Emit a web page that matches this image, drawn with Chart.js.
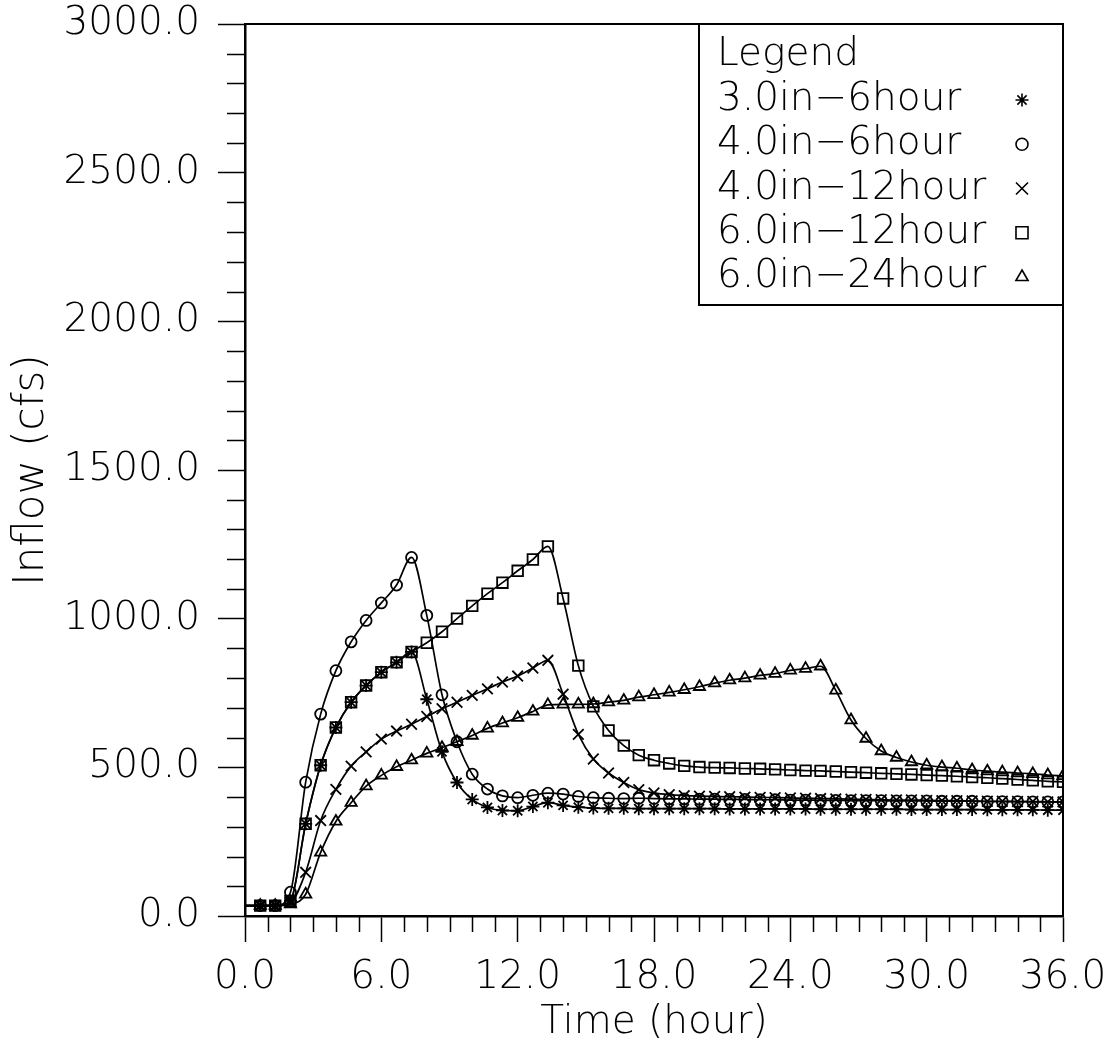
<!DOCTYPE html>
<html>
<head>
<meta charset="utf-8">
<title>Inflow hydrographs</title>
<script src="https://cdn.jsdelivr.net/npm/chart.js@4/dist/chart.umd.min.js"></script>
<style>
  html, body { margin: 0; padding: 0; background: #fff; }
</style>
</head>
<body>
<canvas id="inflowChart" width="1116" height="1046"></canvas>
<script>
// Time axis: one value every 40 minutes (hours)
const timeHours = [
  0, 0.67, 1.33, 2, 2.67, 3.33, 4, 4.67, 5.33, 6,
  6.67, 7.33, 8, 8.67, 9.33, 10, 10.67, 11.33, 12, 12.67,
  13.33, 14, 14.67, 15.33, 16, 16.67, 17.33, 18, 18.67, 19.33,
  20, 20.67, 21.33, 22, 22.67, 23.33, 24, 24.67, 25.33, 26,
  26.67, 27.33, 28, 28.67, 29.33, 30, 30.67, 31.33, 32, 32.67,
  33.33, 34, 34.67, 35.33, 36
];

const seriesNames = ['3.0in\u22126hour', '4.0in\u22126hour', '4.0in\u221212hour', '6.0in\u221212hour', '6.0in\u221224hour'];

// Inflow (cfs)
const inflow3in6hr = [
  35, 35, 35, 51, 310, 507, 634, 719, 775, 820,
  853, 888, 729, 552, 449, 392, 365, 355, 354, 368,
  381, 372, 366, 363, 362, 362, 361, 361, 361, 361,
  361, 361, 360, 360, 360, 360, 360, 360, 359, 359,
  359, 359, 359, 359, 358, 358, 358, 358, 358, 357,
  357, 357, 357, 356, 356
];
const inflow4in6hr = [
  35, 35, 35, 80, 450, 679, 825, 922, 994, 1053,
  1113, 1206, 1011, 744, 586, 477, 427, 404, 398, 406,
  413, 410, 402, 398, 396, 395, 396, 395, 394, 394,
  393, 393, 392, 392, 391, 391, 390, 390, 389, 389,
  388, 388, 388, 387, 387, 387, 386, 386, 386, 385,
  385, 385, 384, 384, 384
];
const inflow4in12hr = [
  35, 35, 35, 45, 147, 321, 426, 504, 552, 595,
  622, 645, 671, 697, 719, 742, 764, 787, 807, 834,
  860, 746, 611, 528, 481, 449, 425, 414, 408, 405,
  403, 402, 401, 400, 399, 398, 397, 396, 395, 394,
  393, 392, 391, 390, 390, 389, 388, 388, 387, 386,
  386, 385, 385, 384, 384
];
const inflow6in12hr = [
  35, 35, 35, 51, 310, 507, 634, 719, 775, 820,
  853, 888, 919, 956, 1000, 1043, 1084, 1121, 1161, 1199,
  1243, 1068, 842, 705, 624, 573, 541, 524, 513, 505,
  501, 499, 498, 496, 495, 493, 491, 489, 488, 486,
  484, 482, 480, 478, 476, 474, 472, 470, 467, 465,
  462, 459, 456, 453, 451
];
const inflow6in24hr = [
  35, 35, 35, 40, 73, 214, 318, 381, 437, 473,
  502, 524, 547, 566, 586, 607, 631, 649, 667, 688,
  710, 712, 712, 713, 719, 725, 736, 744, 752, 761,
  771, 783, 793, 800, 809, 815, 826, 832, 840, 759,
  659, 597, 555, 533, 518, 507, 501, 497, 491, 487,
  484, 481, 478, 474, 471
];

const xTickValues = [0, 6, 12, 18, 24, 30, 36];
const yTickValues = [0, 500, 1000, 1500, 2000, 2500, 3000];
const xMinorStep = 1;
const yMinorStep = 100;

const FONT = "'DejaVu Sans', 'Liberation Sans', sans-serif";
Chart.defaults.font.family = FONT;
Chart.defaults.color = '#000';

const allSeries = [inflow3in6hr, inflow4in6hr, inflow4in12hr, inflow6in12hr, inflow6in24hr];
const markerStyles = [
  { pointStyle: 'star', radius: 6.5, legendRadius: 6.5 },
  { pointStyle: 'circle', radius: 5.5, legendRadius: 6 },
  { pointStyle: 'crossRot', radius: 7.5, legendRadius: 8.5 },
  { pointStyle: 'rect', radius: 7.5, legendRadius: 8.5 },
  { pointStyle: 'triangle', radius: 6.5, legendRadius: 7 }
];

function toPoints(values) {
  return timeHours.map((t, i) => ({ x: t, y: values[i] }));
}

const datasets = allSeries.map((values, i) => ({
  label: seriesNames[i],
  data: toPoints(values),
  borderColor: '#000',
  backgroundColor: 'rgba(0,0,0,0)',
  borderWidth: 1.7,
  cubicInterpolationMode: 'monotone',
  pointStyle: markerStyles[i].pointStyle,
  // no marker on the starting point at t = 0
  pointRadius: timeHours.map(t => t === 0 ? 0 : markerStyles[i].radius),
  pointBorderColor: '#000',
  pointBackgroundColor: 'rgba(0,0,0,0)',
  pointBorderWidth: 1.8
}));

// White page behind the chart
const whiteBackground = {
  id: 'whiteBackground',
  beforeDraw(chart) {
    const ctx = chart.ctx;
    ctx.save();
    ctx.fillStyle = '#fff';
    ctx.fillRect(0, 0, chart.width, chart.height);
    ctx.restore();
  }
};

// Minor ticks plus top/right frame lines
const frameAndMinorTicks = {
  id: 'frameAndMinorTicks',
  afterDraw(chart) {
    const ctx = chart.ctx;
    const area = chart.chartArea;
    const xs = chart.scales.x;
    const ys = chart.scales.y;
    ctx.save();
    ctx.strokeStyle = '#000';
    ctx.lineWidth = 1.5;
    ctx.beginPath();
    for (let v = xs.min; v <= xs.max; v += xMinorStep) {
      if (xTickValues.includes(v)) continue;
      const px = Math.round(xs.getPixelForValue(v)) + 0.5;
      ctx.moveTo(px, area.bottom);
      ctx.lineTo(px, area.bottom + 16);
    }
    for (let v = ys.min; v <= ys.max; v += yMinorStep) {
      if (yTickValues.includes(v)) continue;
      const py = Math.round(ys.getPixelForValue(v)) + 0.5;
      ctx.moveTo(area.left - 18, py);
      ctx.lineTo(area.left, py);
    }
    ctx.stroke();

    ctx.lineWidth = 2;
    ctx.beginPath();
    ctx.moveTo(area.left, area.top);
    ctx.lineTo(area.right, area.top);
    ctx.lineTo(area.right, area.bottom);
    ctx.stroke();
    ctx.restore();
  }
};

// Boxed legend in the upper right corner: text first, marker after it
const boxLegend = {
  id: 'boxLegend',
  afterDraw(chart) {
    const ctx = chart.ctx;
    const area = chart.chartArea;
    const boxW = 364, boxH = 281;
    const left = area.right - boxW;
    const top = area.top;
    ctx.save();
    ctx.fillStyle = '#fff';
    ctx.fillRect(left, top, boxW, boxH);
    ctx.strokeStyle = '#000';
    ctx.lineWidth = 2;
    ctx.strokeRect(left, top, boxW, boxH);

    ctx.fillStyle = '#000';
    ctx.font = '200 39px ' + FONT;
    ctx.textBaseline = 'middle';
    ctx.textAlign = 'left';
    ctx.fillText('Legend', left + 18, top + 31);

    const rowStep = 44.25;
    seriesNames.forEach((name, i) => {
      const y = top + 76 + i * rowStep;
      ctx.fillStyle = '#000';
      ctx.fillText(name, left + 18, y);
      ctx.fillStyle = 'rgba(0,0,0,0)';
      ctx.strokeStyle = '#000';
      ctx.lineWidth = 1.6;
      Chart.helpers.drawPoint(ctx, {
        pointStyle: markerStyles[i].pointStyle,
        radius: markerStyles[i].legendRadius,
        rotation: 0,
        borderWidth: 1.6
      }, area.right - 41, y);
    });
    ctx.restore();
  }
};

const tickFont = { family: FONT, size: 39, weight: 200 };

new Chart(document.getElementById('inflowChart'), {
  type: 'line',
  data: { datasets: datasets },
  options: {
    responsive: false,
    devicePixelRatio: 1,
    animation: false,
    layout: { padding: { top: 24, right: 53, left: 0, bottom: 0 } },
    plugins: {
      legend: { display: false },
      tooltip: { enabled: false }
    },
    scales: {
      x: {
        type: 'linear',
        min: 0,
        max: 36,
        afterBuildTicks: scale => { scale.ticks = xTickValues.map(v => ({ value: v })); },
        afterFit: scale => {
          scale.height = 130;
          scale.paddingRight = 0;
        },
        ticks: {
          font: tickFont,
          padding: 12,
          maxRotation: 0,
          autoSkip: false,
          callback: v => v.toFixed(1)
        },
        grid: {
          drawOnChartArea: false,
          drawTicks: true,
          tickLength: 26,
          tickColor: '#000',
          tickWidth: 1.5
        },
        border: { color: '#000', width: 2.5 },
        title: {
          display: true,
          text: 'Time (hour)',
          font: tickFont,
          padding: { top: 0, bottom: 0 }
        }
      },
      y: {
        type: 'linear',
        min: 0,
        max: 3000,
        afterBuildTicks: scale => { scale.ticks = yTickValues.map(v => ({ value: v })); },
        afterFit: scale => {
          scale.width = 245;
          scale.paddingTop = 0;
        },
        ticks: {
          font: tickFont,
          padding: 18,
          autoSkip: false,
          callback: v => v.toFixed(1)
        },
        grid: {
          drawOnChartArea: false,
          drawTicks: true,
          tickLength: 27,
          tickColor: '#000',
          tickWidth: 1.5
        },
        border: { color: '#000', width: 2.5 },
        title: {
          display: true,
          text: 'Inflow (cfs)',
          font: { family: FONT, size: 42, weight: 200 },
          padding: { top: 7, bottom: 0 }
        }
      }
    }
  },
  plugins: [whiteBackground, frameAndMinorTicks, boxLegend]
});
</script>
</body>
</html>
